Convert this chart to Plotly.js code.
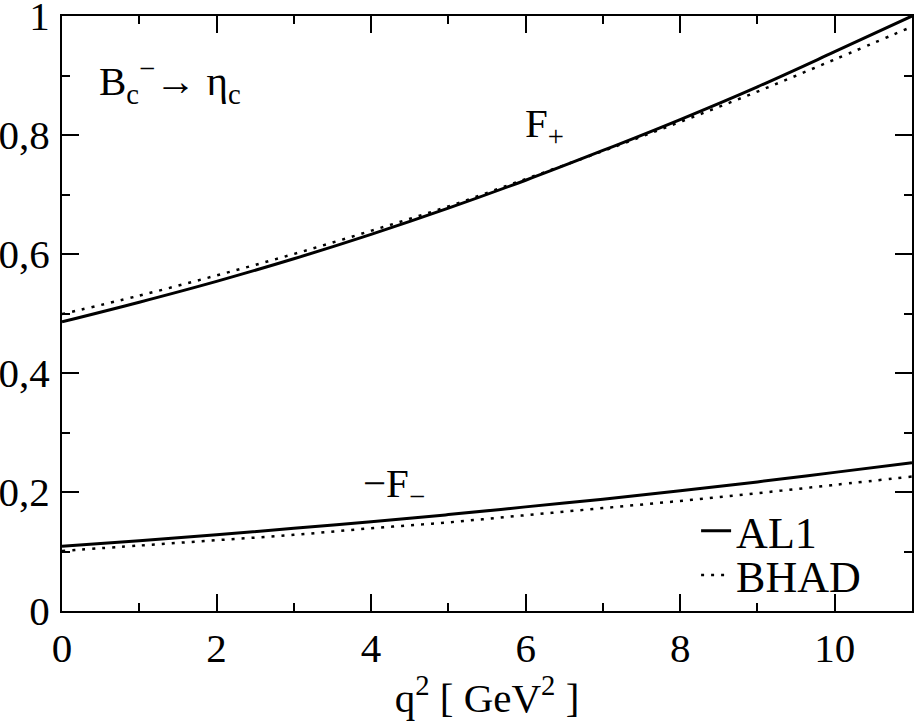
<!DOCTYPE html>
<html>
<head>
<meta charset="utf-8">
<script src="https://cdn.plot.ly/plotly-3.0.1.min.js"></script>
<style>
  body { margin: 0; background: #fff; }
  #plotArea { width: 916px; height: 721px; }
</style>
</head>
<body>
<div id="plotArea"></div>
<script>
// q^2 in GeV^2
var q2 = [0, 1, 2, 3, 4, 5, 6, 7, 8, 9, 10, 11];

// F+ form factor
var fPlusAL1  = [0.486, 0.519, 0.554, 0.592, 0.633, 0.677, 0.724, 0.774, 0.826, 0.881, 0.940, 1.000];
var fPlusBHAD = [0.499, 0.530, 0.564, 0.600, 0.639, 0.680, 0.726, 0.773, 0.822, 0.873, 0.927, 0.982];

// -F- form factor
var fMinusAL1  = [0.109, 0.118, 0.128, 0.139, 0.150, 0.162, 0.175, 0.188, 0.202, 0.217, 0.233, 0.249];
var fMinusBHAD = [0.101, 0.110, 0.119, 0.128, 0.139, 0.149, 0.161, 0.173, 0.185, 0.198, 0.212, 0.226];

var yTickVals = [0, 0.2, 0.4, 0.6, 0.8, 1];
var yTickText = ["0", "0,2", "0,4", "0,6", "0,8", "1"];
var xTickVals = [0, 2, 4, 6, 8, 10];
var xTickText = ["0", "2", "4", "6", "8", "10"];

var solid = {color: "black", width: 3, shape: "spline"};
var dotted = {color: "black", width: 2.5, dash: "3px,7px", shape: "spline"};

var data = [
    {x: q2, y: fPlusAL1, mode: "lines", type: "scatter", name: "AL1", line: solid, legend: "legend"},
    {x: q2, y: fMinusAL1, mode: "lines", type: "scatter", name: "AL1", line: solid, showlegend: false},
    {x: q2, y: fPlusBHAD, mode: "lines", type: "scatter", name: "BHAD", line: dotted, legend: "legend2"},
    {x: q2, y: fMinusBHAD, mode: "lines", type: "scatter", name: "BHAD", line: dotted, showlegend: false}
];

var fontMain = {family: "Liberation Serif", size: 41, color: "black"};
var fontLegend = {family: "Liberation Serif", size: 44, color: "black"};

var layout = {
    width: 916,
    height: 721,
    margin: {l: 62, r: 4, t: 16, b: 110},
    paper_bgcolor: "white",
    plot_bgcolor: "white",
    font: fontMain,
    showlegend: true,
    legend: {
        x: 0.746, y: 0.134, xanchor: "left", yanchor: "middle",
        bgcolor: "rgba(0,0,0,0)", font: fontLegend, itemwidth: 30
    },
    legend2: {
        x: 0.746, y: 0.06, xanchor: "left", yanchor: "middle",
        bgcolor: "rgba(0,0,0,0)", font: fontLegend, itemwidth: 30
    },
    xaxis: {
        range: [0, 11],
        tickvals: xTickVals, ticktext: xTickText,
        ticks: "inside", ticklen: 17, tickwidth: 2, tickcolor: "black",
        minor: {dtick: 1, ticks: "inside", ticklen: 8, tickwidth: 2, tickcolor: "black"},
        showline: true, linewidth: 2, linecolor: "black", mirror: "ticks",
        showgrid: false, zeroline: false,
        tickfont: fontMain, ticklabeloverflow: "allow",
        title: {text: "q<sup>2</sup> [ GeV<sup>2</sup> ]", font: fontMain, standoff: 4}
    },
    yaxis: {
        range: [0, 1],
        tickvals: yTickVals, ticktext: yTickText,
        ticks: "inside", ticklen: 17, tickwidth: 2, tickcolor: "black",
        minor: {dtick: 0.1, ticks: "inside", ticklen: 8, tickwidth: 2, tickcolor: "black"},
        showline: true, linewidth: 2, linecolor: "black", mirror: "ticks",
        showgrid: false, zeroline: false,
        tickfont: fontMain, ticklabelstandoff: 2, ticklabeloverflow: "allow"
    },
    annotations: [
        {text: "B<sub>c</sub><sup>−</sup>→ η<sub>c</sub>", x: 0.45, y: 0.89, xref: "x", yref: "y",
         xanchor: "left", showarrow: false, font: fontMain},
        {text: "F<sub>+</sub>", x: 6.25, y: 0.815, xref: "x", yref: "y",
         showarrow: false, font: fontMain},
        {text: "−F<sub>−</sub>", x: 4.3, y: 0.21, xref: "x", yref: "y",
         showarrow: false, font: fontMain}
    ]
};

Plotly.newPlot("plotArea", data, layout, {displayModeBar: false});
</script>
</body>
</html>
